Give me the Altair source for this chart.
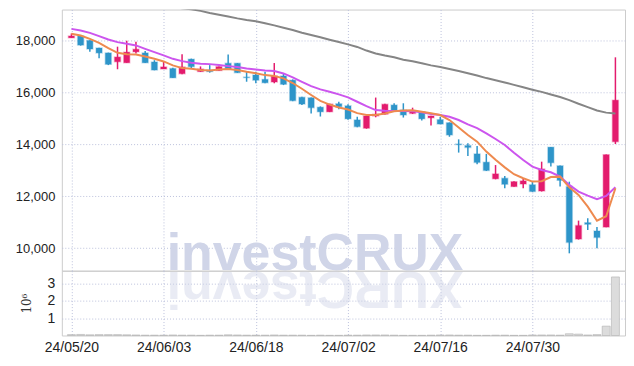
import altair as alt
import pandas as pd

# ---------------- data ----------------
tick_idx = [0, 10, 20, 30, 40, 50]
tick_labels = ["24/05/20", "24/06/03", "24/06/18", "24/07/02", "24/07/16", "24/07/30"]
price_ticks = [10000, 12000, 14000, 16000, 18000]
vol_ticks = [1, 2, 3]

opens = [18100, 18170, 18000, 17710, 17520, 17180, 17140, 17560, 17520, 17170,
         16900, 16920, 16720, 17280, 16800, 16860, 16840, 17120, 17120, 16590,
         16670, 16500, 16400, 16630, 16470, 15810, 15790, 15430, 15250, 15560,
         15480, 14940, 14620, 15090, 15160, 15510, 15320, 15190, 15250, 15020,
         14950, 14830, 14010, 13950, 13630, 13310, 12670, 12690, 12370, 12470,
         12440, 12200, 13890, 13170, 12370, 10350, 10980, 10660, 10810, 14100]
closes = [18170, 17820, 17670, 17520, 17080, 17360, 17550, 17660, 17140, 16860,
          16980, 16560, 16980, 16990, 16900, 16800, 16990, 16900, 16760, 16570,
          16470, 16370, 16630, 16310, 15680, 15550, 15410, 15250, 15550, 15450,
          14980, 14680, 15090, 15160, 15540, 15320, 15130, 15280, 14980, 15090,
          14780, 14360, 13990, 13880, 13300, 12990, 12860, 12460, 12560, 12590,
          12180, 13050, 13290, 12610, 10220, 10870, 10920, 10410, 13600, 15700]
highs = [18270, 18180, 18010, 17720, 17530, 17760, 17990, 17950, 17590, 17240,
         17180, 16950, 17470, 17300, 17000, 17050, 17000, 17460, 17130, 16790,
         16790, 16790, 17130, 16730, 16500, 15830, 15800, 15460, 15560, 15640,
         15540, 15060, 15100, 15800, 15560, 15580, 15580, 15410, 15260, 15100,
         15060, 14840, 14190, 14040, 13930, 13630, 13200, 12780, 12580, 12690,
         12560, 13330, 13900, 13180, 12560, 11060, 11150, 10810, 13610, 17350]
lows = [18100, 17800, 17560, 17310, 17050, 16890, 17140, 17500, 17130, 16850,
        16900, 16550, 16700, 16930, 16790, 16760, 16830, 16890, 16750, 16410,
        16350, 16350, 16350, 16280, 15660, 15510, 15190, 15070, 15240, 15350,
        14950, 14660, 14600, 15040, 15150, 15300, 15030, 15170, 14920, 14720,
        14770, 14290, 13680, 13550, 13230, 12970, 12650, 12310, 12360, 12310,
        12170, 12180, 13140, 12370, 9800, 10330, 10700, 10000, 10800, 14010]
ma_short = [18254, 18192, 18062, 17908, 17704, 17523, 17473, 17460, 17385, 17292,
            17192, 17038, 16935, 16908, 16865, 16845, 16885, 16896, 16858, 16792,
            16740, 16665, 16630, 16538, 16360, 16140, 15900, 15670, 15530, 15420,
            15340, 15200, 15130, 15127, 15185, 15270, 15305, 15310, 15254, 15192,
            15127, 14935, 14650, 14360, 14100, 13720, 13400, 13110, 12846, 12692,
            12562, 12580, 12740, 12754, 12340, 12050, 11600, 11056, 11230, 12308]
ma_mid = [18446, 18385, 18292, 18165, 18038, 17935, 17870, 17808, 17677, 17550,
          17423, 17292, 17204, 17138, 17100, 17088, 17050, 17011, 16973, 16923,
          16885, 16846, 16819, 16730, 16577, 16408, 16242, 16115, 16023, 15923,
          15808, 15638, 15473, 15319, 15292, 15281, 15281, 15270, 15230, 15165,
          15127, 15062, 14935, 14769, 14625, 14423, 14204, 13973, 13677, 13396,
          13140, 13012, 12923, 12754, 12435, 12177, 12023, 11885, 12012, 12346]
ma_long = [19950, 19890, 19830, 19770, 19710, 19650, 19590, 19530, 19470, 19410,
           19350, 19290, 19240, 19200, 19140, 19060, 18990, 18920, 18850, 18790,
           18740, 18660, 18580, 18490, 18400, 18300, 18210, 18120, 18030, 17940,
           17850, 17750, 17610, 17500, 17420, 17350, 17260, 17200, 17120, 17040,
           16980, 16900, 16820, 16740, 16650, 16550, 16470, 16380, 16290, 16200,
           16100, 16020, 15920, 15820, 15700, 15560, 15430, 15300, 15220, 15190]
volume_m = [0.05, 0.06, 0.04, 0.05, 0.05, 0.05, 0.04, 0.03, 0.02, 0.02,
            0.02, 0.03, 0.02, 0.02, 0.01, 0.02, 0.02, 0.04, 0.03, 0.02,
            0.02, 0.02, 0.03, 0.02, 0.02, 0.02, 0.01, 0.02, 0.01, 0.01,
            0.02, 0.02, 0.03, 0.03, 0.03, 0.02, 0.01, 0.01, 0.01, 0.02,
            0.03, 0.03, 0.02, 0.02, 0.01, 0.01, 0.02, 0.02, 0.01, 0.01,
            0.03, 0.03, 0.03, 0.02, 0.10, 0.08, 0.03, 0.05, 0.54, 3.38]

# ---------------- styling ----------------
RED = "#e31b6d"
BLUE = "#2e95c9"
ORANGE = "#ee8a4f"
PURPLE = "#cc55ee"
GRAY = "#858585"
WM = "#d0d5e8"
FONT = "Liberation Sans"
W, HP, HV = 565, 262, 65
grid = dict(gridColor="#bcc1dc", gridDash=[1, 2], gridWidth=1)

n = len(opens)
idx = list(range(n))
candles = pd.DataFrame({"i": idx, "open": opens, "close": closes,
                        "high": highs, "low": lows, "vol": volume_m})
candles["dir"] = ["up" if c >= o else "down" for o, c in zip(opens, closes)]

xscale = alt.Scale(domain=[-0.5, 59.5], nice=False, zero=False)
ypscale = alt.Scale(domain=[9130, 19190], nice=False, zero=False)
dir_scale = alt.Scale(domain=["up", "down"], range=[RED, BLUE])

x_price = alt.X("i:Q", scale=xscale,
                axis=alt.Axis(values=tick_idx, labels=False, ticks=False, domain=False,
                              title=None, grid=True, **grid))
y_price = alt.Y("low:Q", scale=ypscale,
                axis=alt.Axis(values=price_ticks, format=",.0f", title=None, ticks=False,
                              domain=False, labelPadding=7, labelFont=FONT, labelFontSize=13,
                              labelColor="#222", grid=True, **grid))

wm = alt.Chart(pd.DataFrame({"t": ["investCRUX"]})).mark_text(
    font="Liberation Sans", fontWeight="bold", fontSize=52, color=WM,
    align="center", baseline="alphabetic"
).encode(x=alt.value(254), y=alt.value(261), text="t:N")

wick = alt.Chart(candles).mark_rule(strokeWidth=1.5).encode(
    x=x_price, y=y_price, y2="high:Q",
    color=alt.Color("dir:N", scale=dir_scale, legend=None))

body = alt.Chart(candles).mark_bar(width=6, strokeWidth=1.5, strokeOpacity=0.3).encode(
    x=alt.X("i:Q", scale=xscale), y=alt.Y("open:Q", scale=ypscale), y2="close:Q",
    color=alt.Color("dir:N", scale=dir_scale, legend=None),
    stroke=alt.Stroke("dir:N", scale=dir_scale, legend=None))


def ma_line(values, color):
    df = pd.DataFrame({"i": idx, "v": values})
    return alt.Chart(df).mark_line(strokeWidth=2, color=color, clip=True).encode(
        x=alt.X("i:Q", scale=xscale), y=alt.Y("v:Q", scale=ypscale))


price = alt.layer(wm, wick, body, ma_line(ma_long, GRAY), ma_line(ma_mid, PURPLE),
                  ma_line(ma_short, ORANGE)).properties(width=W, height=HP)

# reflection of the watermark (decoration), letters rotated in place
letters = list("investCRUX")
adv = [0.278, 0.611, 0.556, 0.556, 0.556, 0.333, 0.722, 0.722, 0.722, 0.667]
fs = 52
total = sum(adv) * fs
start = 254 - total / 2
pos, acc = [], start
for a in adv:
    pos.append(acc + a * fs / 2)
    acc += a * fs
refl = alt.Chart(pd.DataFrame({"t": letters, "px": pos})).mark_text(
    font="Liberation Sans", fontWeight="bold", fontSize=fs, color=WM, opacity=0.45,
    angle=180, align="center", baseline="alphabetic"
).encode(x=alt.X("px:Q", scale=None), y=alt.value(1), text="t:N")

label_expr = "[" + ",".join("'%s'" % s for s in tick_labels) + "][round(datum.value/10)]"
vol = alt.Chart(candles).mark_bar(width=8, color="#dcdcdc", stroke="#b0b0b0",
                                  strokeWidth=0.6).encode(
    x=alt.X("i:Q", scale=xscale,
            axis=alt.Axis(values=tick_idx, labelExpr=label_expr, title=None, ticks=False,
                          domain=False, labelFont=FONT, labelFontSize=14, labelPadding=5,
                          labelFlush=False, labelColor="#222", grid=True, **grid)),
    y=alt.Y("vol:Q", scale=alt.Scale(domain=[0, 3.74], nice=False),
            axis=alt.Axis(values=vol_ticks, title="10⁶", titleFont="DejaVu Serif",
                          titleFontSize=12, titleFontWeight="normal", titleColor="#333",
                          titlePadding=14, labelFont=FONT, labelFontSize=14,
                          labelColor="#222", ticks=False, domain=False, labelPadding=7,
                          minExtent=0, grid=True, **grid)))

volume = alt.layer(refl, vol).properties(width=W, height=HV)

chart = alt.vconcat(price, volume, spacing=0, bounds="flush").properties(
    padding={"left": 6, "top": 0, "right": 0, "bottom": 0}
).configure_view(stroke="#cccccc")

chart.save("out.html", embed_options={"renderer": "svg", "actions": False})
